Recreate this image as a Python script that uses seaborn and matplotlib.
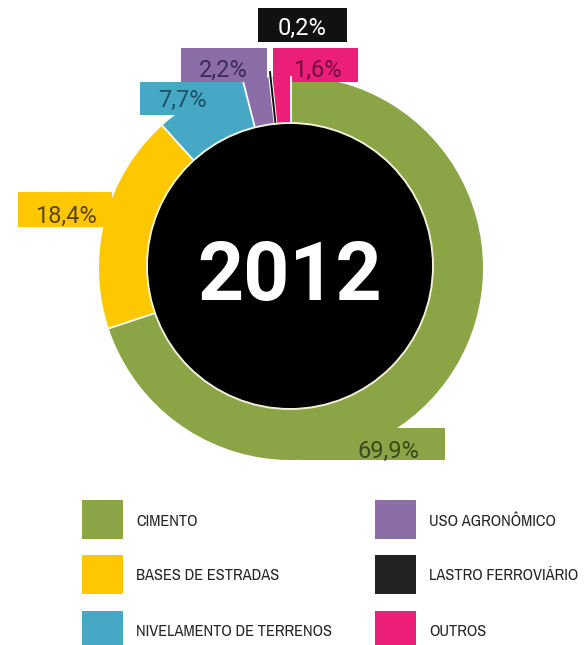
import matplotlib
matplotlib.use("Agg")
import matplotlib.pyplot as plt
from matplotlib import font_manager
from matplotlib.font_manager import FontProperties
from matplotlib.patches import Rectangle, Circle
import numpy as np
import seaborn as sns

# ---- data -------------------------------------------------------------
categories = ["CIMENTO", "BASES DE ESTRADAS", "NIVELAMENTO DE TERRENOS",
              "USO AGRONÔMICO", "LASTRO FERROVIÁRIO", "OUTROS"]
shares = [69.9, 18.4, 7.7, 2.2, 0.2, 1.6]
share_labels = ["69,9%", "18,4%", "7,7%", "2,2%", "0,2%", "1,6%"]
year = "2012"

# ---- style ------------------------------------------------------------
colors = ["#8aa446", "#fdc800", "#47a8c5", "#8b6da8", "#111111", "#ec1f78"]
legend_colors = ["#8aa446", "#fdc800", "#47a8c5", "#8b6da8", "#222222", "#ec1f78"]
value_text_colors = ["#3e4a1c", "#5c4500", "#1d5263", "#3e2a5a", "#ffffff", "#6e0f3c"]

sns.set_theme(style="white")
installed = {f.name for f in font_manager.fontManager.ttflist}


def pick(*cands):
    for c in cands:
        if c in installed:
            return c
    return "DejaVu Sans"


def condensed_font():
    """Return FontProperties for a narrow/condensed face if one exists."""
    best = None
    for f in font_manager.fontManager.ttflist:
        tag = (f.name + " " + f.fname).lower()
        if ("condensed" in tag or "narrow" in tag) and "oblique" not in tag \
                and "italic" not in tag:
            score = 0
            if "bold" in tag:
                score -= 2
            if "dejavu" in tag:
                score -= 1
            if best is None or score > best[0]:
                best = (score, f.fname)
    return FontProperties(fname=best[1]) if best else None


label_font = pick("Roboto", "Open Sans", "DejaVu Sans")
plt.rcParams["font.family"] = [label_font, "DejaVu Sans"]
narrow_fp = condensed_font()

W, H = 584, 645
fig = plt.figure(figsize=(W / 100, H / 100), dpi=100)
ax = fig.add_axes([0, 0, 1, 1])

# ring geometry (canvas pixels, y grows downward)
cx, cy = 291, 268
r_out, r_in = 192, 143

wedges, _ = ax.pie(shares, colors=colors, startangle=-90, counterclock=True,
                   center=(cx, cy), radius=r_out,
                   wedgeprops=dict(linewidth=0))

# rectangular tabs that carry the value labels
tab_boxes = [(300, 428, 445, 460), (18, 192, 112, 227), (140, 82, 244, 115),
             (181, 48, 267, 82), (258, 8, 347, 42), (273, 48, 358, 82)]
text_pos = [(388, 458), (66, 223), (182, 107), (223, 77), (302, 35), (317, 77)]
for (x0, y0, x1, y1), col in zip(tab_boxes, colors):
    ax.add_patch(Rectangle((x0, y0), x1 - x0, y1 - y0, facecolor=col,
                           edgecolor="none", zorder=2))

# white separators between slices
bounds = np.concatenate([[0], np.cumsum(shares)]) / sum(shares)
for f in bounds[:-1]:
    th = np.deg2rad(-90 + 360 * f)
    ax.plot([cx + r_in * np.cos(th), cx + r_out * np.cos(th)],
            [cy + r_in * np.sin(th), cy + r_out * np.sin(th)],
            color="white", lw=1.3, zorder=3, solid_capstyle="butt")

# very thin slices drawn as a line so they stay visible
for i, s in enumerate(shares):
    if s / sum(shares) * 360 < 1.5:
        mid = np.deg2rad(-90 + 360 * (bounds[i] + bounds[i + 1]) / 2)
        ax.plot([cx + r_in * np.cos(mid), cx + (r_out + 6) * np.cos(mid)],
                [cy + r_in * np.sin(mid), cy + (r_out + 6) * np.sin(mid)],
                color=colors[i], lw=1.4, zorder=4, solid_capstyle="butt")

# black centre disc with the year
ax.add_patch(Circle((290, 266), r_in, facecolor="black",
                    edgecolor="#f2efd8", lw=1.4, zorder=5))
ax.text(290, 300, year, color="white", fontsize=58, fontweight="bold",
        ha="center", va="baseline", zorder=6)

for (tx, ty), lab, tc in zip(text_pos, share_labels, value_text_colors):
    ax.text(tx, ty, lab, color=tc, fontsize=17, ha="center", va="baseline",
            zorder=6)

# legend: two columns of colour squares
col_x = [82, 375]
row_y = [500, 555, 611]
if narrow_fp is not None:
    legend_kw = dict(fontproperties=narrow_fp, fontsize=11.8)
else:
    legend_kw = dict(family=[label_font, "DejaVu Sans"], fontsize=10.2,
                     fontweight="medium")
for i, (cat, col) in enumerate(zip(categories, legend_colors)):
    c, r = divmod(i, 3)
    x0, y0 = col_x[c], row_y[r]
    ax.add_patch(Rectangle((x0, y0), 41, 39, facecolor=col, edgecolor="none"))
    ax.text(x0 + 54, y0 + 21, cat, color="#262626", ha="left", va="center",
            **legend_kw)

ax.set_xlim(0, W)
ax.set_ylim(H, 0)
ax.set_aspect("equal")
ax.axis("off")

fig.savefig("out.png", dpi=100, facecolor="white")
